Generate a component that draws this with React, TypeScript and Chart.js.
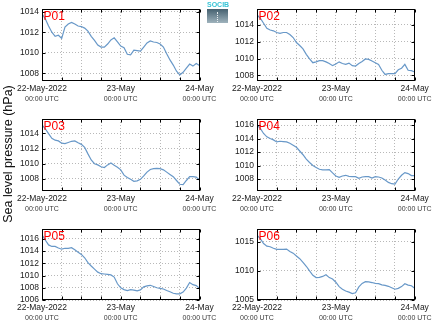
import React, { useEffect, useRef } from "react";
import { Chart, registerables } from "chart.js";

Chart.register(...registerables);

// ---------- DATA ----------
const hours = [
  0, 1, 2, 3, 4, 5, 6, 7, 8, 9, 10, 11, 12, 13, 14, 15, 16, 17, 18, 19, 20, 21, 22, 23, 24,
  25, 26, 27, 28, 29, 30, 31, 32, 33, 34, 35, 36, 37, 38, 39, 40, 41, 42, 43, 44, 45, 46, 47, 48,
];

const p01 = [
  1013.8, 1013.3, 1012.6, 1012.0, 1011.6, 1011.7, 1011.4, 1012.5, 1012.8, 1012.95,
  1012.8, 1012.6, 1012.55, 1012.4, 1012.1, 1011.6, 1011.2, 1010.75, 1010.55, 1010.55,
  1010.85, 1011.25, 1011.45, 1011.05, 1010.65, 1010.5, 1009.85, 1009.8, 1010.25, 1010.2,
  1010.15, 1010.55, 1010.95, 1011.15, 1011.05, 1011.0, 1010.85, 1010.55, 1009.9, 1009.3,
  1008.8, 1008.2, 1007.85, 1008.1, 1008.5, 1008.9, 1008.7, 1008.95, 1008.75,
];
const p02 = [
  1015.2, 1014.8, 1014.2, 1013.6, 1013.4, 1013.3, 1013.1, 1013.0, 1013.1, 1013.1,
  1012.85, 1012.5, 1011.9, 1011.55, 1011.15, 1010.5, 1009.95, 1009.5, 1009.6, 1009.75,
  1009.75, 1009.6, 1009.4, 1009.15, 1009.35, 1009.6, 1009.4, 1009.3, 1009.45, 1009.15,
  1009.1, 1009.4, 1009.65, 1009.95, 1009.9, 1009.7, 1009.5, 1009.3, 1008.6, 1008.1,
  1008.2, 1008.2, 1008.2, 1008.65, 1008.85, 1009.3, 1008.6, 1008.55, 1008.4,
];
const p03 = [
  1015.1, 1014.6, 1013.95, 1013.35, 1013.1, 1013.0, 1012.7, 1012.65, 1012.8, 1012.95,
  1013.0, 1012.75, 1012.55, 1012.15, 1011.3, 1010.5, 1010.0, 1009.85, 1009.6, 1009.5,
  1009.85, 1010.1, 1009.8, 1009.55, 1009.2, 1008.5, 1008.2, 1007.95, 1007.7, 1007.75,
  1007.95, 1008.4, 1008.9, 1009.25, 1009.35, 1009.4, 1009.35, 1009.2, 1008.9, 1008.6,
  1008.3, 1007.8, 1007.3, 1007.25, 1007.8, 1008.3, 1008.3, 1008.25, 1007.85,
];
const p04 = [
  1016.0, 1015.5, 1014.75, 1014.25, 1014.0, 1013.8, 1013.5, 1013.6, 1013.55, 1013.5,
  1013.3, 1013.0, 1012.7, 1012.15, 1011.6, 1010.95, 1010.45, 1010.0, 1009.7, 1009.45,
  1009.35, 1009.35, 1009.4, 1008.9, 1008.45, 1008.25, 1008.45, 1008.55, 1008.4, 1008.35,
  1008.35, 1008.1, 1008.3, 1008.35, 1008.35, 1008.15, 1008.35, 1008.3, 1008.15, 1007.85,
  1007.5, 1007.3, 1007.25, 1008.0, 1008.55, 1008.95, 1008.8, 1008.5, 1008.5,
];
const p05 = [
  1016.65, 1015.8, 1015.0, 1014.75, 1014.75, 1014.5, 1014.3, 1014.45, 1014.45, 1014.55,
  1014.2, 1013.8, 1013.45, 1012.9, 1012.1, 1011.55, 1011.05, 1010.55, 1010.3, 1010.25,
  1010.2, 1010.1, 1009.75, 1008.65, 1008.0, 1007.7, 1007.55, 1007.7, 1007.6, 1007.5,
  1007.65, 1008.15, 1008.3, 1008.4, 1008.2, 1008.0, 1007.9, 1007.8, 1007.55, 1007.35,
  1007.1, 1007.0, 1007.0, 1007.3, 1007.95, 1008.85, 1008.5, 1008.35, 1007.9,
];
const p06 = [
  1016.15, 1015.55, 1014.7, 1014.25, 1014.15, 1013.9, 1013.7, 1013.7, 1013.7, 1013.75,
  1013.35, 1013.05, 1012.55, 1012.1, 1011.45, 1010.8, 1010.0, 1009.25, 1008.85, 1008.9,
  1009.05, 1009.35, 1008.85, 1008.6, 1008.05, 1007.3, 1006.85, 1006.55, 1006.35, 1006.1,
  1006.25, 1007.25, 1007.85, 1008.15, 1008.1, 1008.0, 1007.85, 1007.8, 1007.6, 1007.5,
  1007.35, 1007.1, 1006.85, 1007.0, 1007.3, 1007.8, 1007.55, 1007.45, 1007.0,
];

const panelNames = ["P01", "P02", "P03", "P04", "P05", "P06"];
const panelSeries = [p01, p02, p03, p04, p05, p06];
const yMins = [1007.25, 1007.32, 1006.42, 1006.22, 1006.0, 1005.0];
const yMaxs = [1014.26, 1015.9, 1015.88, 1016.9, 1017.6, 1017.2];
const yTicksP01 = [1008, 1010, 1012, 1014];
const yTicksP02 = [1008, 1010, 1012, 1014];
const yTicksP03 = [1008, 1010, 1012, 1014];
const yTicksP04 = [1008, 1010, 1012, 1014, 1016];
const yTicksP05 = [1006, 1008, 1010, 1012, 1014, 1016];
const yTicksP06 = [1005, 1010, 1015];
const panelYTicks = [yTicksP01, yTicksP02, yTicksP03, yTicksP04, yTicksP05, yTicksP06];

const gridHours = [0, 6, 12, 18, 24, 30, 36, 42, 48];
const dateTickHours = [0, 24, 48];
const dateTickLabels = ["22-May-2022", "23-May", "24-May"];
const timeTickLabel = "00:00 UTC";
const yAxisTitle = "Sea level pressure (hPa)";
const logoText = "SOCIB";

// ---------- LAYOUT / STYLE ----------
const FONT = "'Liberation Sans', Arial, Helvetica, sans-serif";
const LINE_COLOR = "rgb(104,152,200)";
const GRID_COLOR = "#b8b8b8";
const COL_LEFT = [0, 217];
const CANVAS_W = 217;
const Y_AXIS_W = [42, 40];
const PAD_RIGHT = [17.5, 19.3];
const ROW_TOP = [0, 110, 220];
const CANVAS_H = 107;
const PAD_TOP = 9;
const PAD_BOTTOM = [0, 0, 1];

const framePlugin = {
  id: "frameAndTicks",
  afterDraw(chart: any) {
    const { ctx, chartArea: a, scales } = chart;
    const L = Math.round(a.left) + 0.5;
    const R = Math.round(a.right) - 0.5;
    const T = Math.round(a.top) + 0.5;
    const B = Math.round(a.bottom) - 0.5;
    ctx.save();
    ctx.strokeStyle = "#000";
    ctx.lineWidth = 1;
    ctx.setLineDash([]);
    ctx.strokeRect(L, T, R - L, B - T);
    ctx.beginPath();
    for (const t of scales.x.ticks) {
      const px = Math.round(scales.x.getPixelForValue(t.value)) + 0.5;
      ctx.moveTo(px, B);
      ctx.lineTo(px, B - 3);
      ctx.moveTo(px, T);
      ctx.lineTo(px, T + 3);
    }
    for (const t of scales.y.ticks) {
      const py = Math.round(scales.y.getPixelForValue(t.value)) + 0.5;
      ctx.moveTo(L, py);
      ctx.lineTo(L + 3, py);
      ctx.moveTo(R, py);
      ctx.lineTo(R - 3, py);
    }
    ctx.stroke();
    ctx.restore();
  },
};

function dateLabelFor(v: number) {
  const i = dateTickHours.indexOf(v);
  return i >= 0 ? dateTickLabels[i] : "";
}

function Panel({ idx }: { idx: number }) {
  const ref = useRef<HTMLCanvasElement>(null);
  const col = idx % 2;
  const row = Math.floor(idx / 2);

  useEffect(() => {
    const values = panelSeries[idx];
    const yTicks = panelYTicks[idx];
    const chart = new Chart(ref.current as HTMLCanvasElement, {
      type: "line",
      data: {
        datasets: [
          {
            data: hours.map((h, i) => ({ x: h, y: values[i] })),
            borderColor: LINE_COLOR,
            borderWidth: 1.2,
            pointRadius: 0,
            tension: 0,
            fill: false,
          },
        ],
      },
      options: {
        animation: false,
        responsive: false,
        maintainAspectRatio: false,
        events: [],
        layout: {
          padding: { left: 0, top: PAD_TOP, right: PAD_RIGHT[col], bottom: PAD_BOTTOM[row] },
        },
        plugins: {
          legend: { display: false },
          tooltip: { enabled: false },
          title: { display: false },
        },
        scales: {
          x: {
            type: "linear",
            position: "bottom",
            weight: 0,
            min: 0,
            max: 48,
            afterBuildTicks: (s: any) => {
              s.ticks = gridHours.map((v) => ({ value: v }));
            },
            afterFit: (s: any) => {
              s.height = 14;
            },
            ticks: {
              autoSkip: false,
              maxRotation: 0,
              minRotation: 0,
              padding: 3,
              color: "#1a1a1a",
              font: { family: FONT, size: 8.5 },
              callback: (v: any) => dateLabelFor(Number(v)),
            },
            grid: { drawTicks: false, color: GRID_COLOR, lineWidth: 1 },
            border: { display: false, dash: [1, 2] },
          },
          x2: {
            type: "linear",
            axis: "x",
            position: "bottom",
            weight: 1,
            min: 0,
            max: 48,
            afterBuildTicks: (s: any) => {
              s.ticks = gridHours.map((v) => ({ value: v }));
            },
            afterFit: (s: any) => {
              s.height = 12;
            },
            ticks: {
              autoSkip: false,
              maxRotation: 0,
              minRotation: 0,
              padding: 0,
              color: "#3a3a3a",
              font: { family: FONT, size: 7 },
              callback: (v: any) => (dateTickHours.indexOf(Number(v)) >= 0 ? timeTickLabel : ""),
            },
            grid: { display: false, drawTicks: false },
            border: { display: false },
          },
          y: {
            type: "linear",
            position: "left",
            min: yMins[idx],
            max: yMaxs[idx],
            afterBuildTicks: (s: any) => {
              s.ticks = yTicks.map((v) => ({ value: v }));
            },
            afterFit: (s: any) => {
              s.width = Y_AXIS_W[col];
            },
            ticks: {
              padding: 3,
              color: "#1a1a1a",
              font: { family: FONT, size: 8.5 },
              callback: (v: any) => String(v),
            },
            grid: { drawTicks: false, color: GRID_COLOR, lineWidth: 1 },
            border: { display: false, dash: [1, 2] },
          },
        },
      } as any,
      plugins: [framePlugin],
    });
    return () => chart.destroy();
  }, [idx, col, row]);

  const chartLeft = COL_LEFT[col] + Y_AXIS_W[col];
  const chartTop = ROW_TOP[row] + PAD_TOP;

  return (
    <>
      <canvas
        ref={ref}
        width={CANVAS_W}
        height={CANVAS_H}
        style={{
          position: "absolute",
          left: COL_LEFT[col],
          top: ROW_TOP[row],
          width: CANVAS_W,
          height: CANVAS_H,
          display: "block",
        }}
      />
      <div
        style={{
          position: "absolute",
          left: chartLeft + 1.5,
          top: chartTop + 0.8,
          fontFamily: FONT,
          fontSize: 12,
          lineHeight: "12px",
          color: "#ff0000",
          whiteSpace: "nowrap",
        }}
      >
        {panelNames[idx]}
      </div>
    </>
  );
}

export default function App() {
  return (
    <div
      style={{
        position: "absolute",
        left: 0,
        top: 0,
        width: 434,
        height: 327,
        background: "#fff",
        overflow: "hidden",
      }}
    >
      {panelNames.map((_, i) => (
        <Panel key={i} idx={i} />
      ))}
      <div
        style={{
          position: "absolute",
          left: 7.5,
          top: 154,
          transform: "translate(-50%, -50%) rotate(-90deg)",
          fontFamily: FONT,
          fontSize: 12.5,
          lineHeight: "13px",
          color: "#111",
          whiteSpace: "nowrap",
        }}
      >
        {yAxisTitle}
      </div>
      <div
        style={{
          position: "absolute",
          left: 207,
          top: 1,
          width: 22,
          textAlign: "center",
          fontFamily: FONT,
          fontWeight: "bold",
          fontSize: 7,
          lineHeight: "7px",
          color: "#38c4d6",
          whiteSpace: "nowrap",
        }}
      >
        {logoText}
      </div>
      <div
        style={{
          position: "absolute",
          left: 207,
          top: 9,
          width: 21,
          height: 14,
          background: "linear-gradient(to bottom, #44606f, #9fb3bd)",
        }}
      >
        <div
          style={{
            position: "absolute",
            left: 10,
            top: 3,
            height: 10,
            borderLeft: "1px dotted rgba(255,255,255,0.85)",
          }}
        />
      </div>
    </div>
  );
}
